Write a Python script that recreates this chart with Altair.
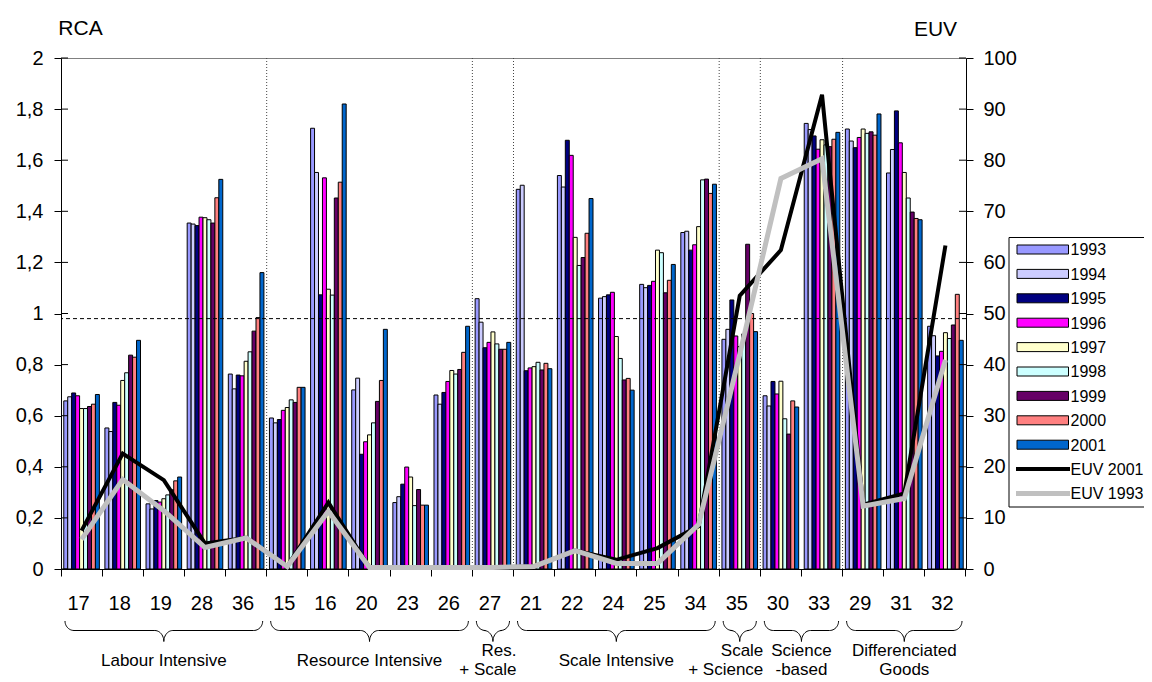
import altair as alt
import numpy as np
import pandas as pd

# ---------------- data ----------------
cats = ["17", "18", "19", "28", "36", "15", "16", "20", "23", "26", "27",
        "21", "22", "24", "25", "34", "35", "30", "33", "29", "31", "32"]
years = ["1993", "1994", "1995", "1996", "1997", "1998", "1999", "2000", "2001"]
year_colors = ["#9999FF", "#CCCCFF", "#000080", "#FF00FF", "#FFFFCC",
               "#CCFFFF", "#660066", "#FF8080", "#0066CC"]

rca_1993 = [0.658, 0.552, 0.255, 1.354, 0.763, 0.591, 1.725, 0.701, 0.260, 0.681, 1.058, 1.486, 1.540, 1.060, 1.114, 1.317, 0.899, 0.678, 1.744, 1.722, 1.550, 0.950]
rca_1994 = [0.674, 0.538, 0.235, 1.350, 0.705, 0.572, 1.552, 0.747, 0.283, 0.645, 0.966, 1.502, 1.495, 1.066, 1.101, 1.322, 0.938, 0.638, 1.720, 1.675, 1.642, 0.913]
rca_1995 = [0.689, 0.652, 0.268, 1.344, 0.759, 0.585, 1.073, 0.449, 0.332, 0.691, 0.866, 0.776, 1.678, 1.073, 1.110, 1.248, 1.053, 0.734, 1.695, 1.649, 1.793, 0.834]
rca_1996 = [0.678, 0.641, 0.262, 1.377, 0.756, 0.621, 1.531, 0.498, 0.399, 0.734, 0.887, 0.787, 1.619, 1.083, 1.126, 1.269, 0.912, 0.685, 1.643, 1.689, 1.668, 0.852]
rca_1997 = [0.628, 0.738, 0.275, 1.375, 0.813, 0.632, 1.095, 0.525, 0.360, 0.777, 0.928, 0.792, 1.298, 0.910, 1.248, 1.340, 0.870, 0.735, 1.680, 1.722, 1.552, 0.925]
rca_1998 = [0.628, 0.768, 0.290, 1.367, 0.850, 0.662, 1.072, 0.572, 0.248, 0.763, 0.881, 0.809, 1.188, 0.824, 1.238, 1.523, 0.920, 0.588, 1.660, 1.705, 1.452, 0.902]
rca_1999 = [0.636, 0.837, 0.310, 1.354, 0.931, 0.652, 1.452, 0.656, 0.311, 0.781, 0.860, 0.779, 1.219, 0.740, 1.081, 1.526, 1.271, 0.528, 1.653, 1.711, 1.397, 0.955]
rca_2000 = [0.645, 0.829, 0.345, 1.453, 0.984, 0.711, 1.514, 0.738, 0.250, 0.848, 0.860, 0.805, 1.314, 0.746, 1.130, 1.470, 1.000, 0.658, 1.682, 1.698, 1.372, 1.075]
rca_2001 = [0.683, 0.895, 0.360, 1.525, 1.160, 0.711, 1.820, 0.938, 0.250, 0.950, 0.887, 0.784, 1.450, 0.700, 1.192, 1.506, 0.929, 0.634, 1.709, 1.781, 1.367, 0.895]

euv_2001 = [7.5, 22.6, 17.4, 5.0, 6.1, 0.5, 13.0, 0.3, 0.3, 0.3, 0.3, 0.5, 3.6, 1.8, 4.1, 8.4, 53.5, 62.4, 92.8, 12.6, 14.8, 63.3]
euv_1993 = [5.8, 17.5, 11.4, 4.2, 6.1, 0.5, 11.3, 0.3, 0.3, 0.3, 0.3, 0.5, 3.6, 1.1, 1.1, 8.7, 42.0, 76.4, 80.3, 12.3, 13.8, 40.9]

ref_level = 0.98
rca_ticks = [0, 0.2, 0.4, 0.6, 0.8, 1.0, 1.2, 1.4, 1.6, 1.8, 2.0]
euv_ticks = [0, 10, 20, 30, 40, 50, 60, 70, 80, 90, 100]

group_labels = [["Labour Intensive"], ["Resource Intensive"], ["Res.", "+ Scale"],
                ["Scale Intensive"], ["Scale", "+ Science"], ["Science", "-based"],
                ["Differenciated", "Goods"]]
group_first = ["17", "15", "27", "21", "35", "30", "29"]
group_last = ["36", "26", "27", "34", "35", "33", "32"]

legend_names = years + ["EUV 2001", "EUV 1993"]

# ---------------- layout ----------------
W, H = 905, 511
PAD = {"left": 53, "top": 50, "right": 1136 - 53 - W, "bottom": 674 - 50 - H}
FONT = "Liberation Sans"
step = W / len(cats)

rca_by_year = [rca_1993, rca_1994, rca_1995, rca_1996, rca_1997, rca_1998, rca_1999, rca_2000, rca_2001]
rca_df = pd.DataFrame([{"cat": c, "year": y, "rca": v}
                       for y, arr in zip(years, rca_by_year) for c, v in zip(cats, arr)])
euv01_df = pd.DataFrame({"cat": cats, "euv": euv_2001})
euv93_df = pd.DataFrame({"cat": cats, "euv": euv_1993})

lab_expr = "replace(format(datum.value, '.1~f'), '.', ',')"

x_scale = alt.Scale(paddingInner=0, paddingOuter=0)
x_axis = alt.Axis(title=None, labelAngle=0, labelFontSize=20, labelFont=FONT,
                  labelColor="black", tickSize=7, bandPosition=1, tickExtra=True,
                  labelPadding=27, labelBaseline="middle", labelOffset=-3,
                  domainColor="black", tickColor="black")
x_cat = alt.X("cat:N", sort=cats, scale=x_scale, axis=x_axis)

y_rca = alt.Y("rca:Q", scale=alt.Scale(domain=[0, 2], nice=False),
              axis=alt.Axis(values=rca_ticks, labelExpr=lab_expr, title="RCA",
                            titleAngle=0, titleX=19, titleY=-30, titleAlign="center",
                            titleBaseline="middle", titleFontSize=21, titleFont=FONT,
                            titleFontWeight="normal", titleColor="black",
                            labelFontSize=20, labelFont=FONT, labelColor="black",
                            tickSize=7, labelPadding=11, grid=False,
                            domainColor="black", tickColor="black"))
y_euv = alt.Y("euv:Q", scale=alt.Scale(domain=[0, 100], nice=False),
              axis=alt.Axis(orient="right", values=euv_ticks, title="EUV",
                            titleAngle=0, titleX=-31, titleY=-29, titleAlign="center",
                            titleBaseline="middle", titleFontSize=21, titleFont=FONT,
                            titleFontWeight="normal", titleColor="black",
                            labelFontSize=20, labelFont=FONT, labelColor="black",
                            tickSize=7, labelPadding=10, grid=False,
                            domainColor="black", tickColor="black"))

fill_enc = alt.Fill("year:N", scale=alt.Scale(domain=years, range=year_colors), legend=None)

# ---------------- RCA layer ----------------
bars = alt.Chart(rca_df).mark_bar(stroke="black", strokeWidth=1).encode(
    x=x_cat,
    xOffset=alt.XOffset("year:N", sort=years, scale=alt.Scale(paddingOuter=0.7, paddingInner=0)),
    y=y_rca,
    fill=fill_enc,
)

sep_df = pd.DataFrame({"cat": group_first[1:]})
separators = alt.Chart(sep_df).mark_rule(color="#444444", strokeDash=[1, 2], strokeWidth=1).encode(
    x=alt.X("cat:N", sort=cats, scale=x_scale, axis=x_axis, bandPosition=0)
)

ref_rule = alt.Chart(pd.DataFrame({"rca": [ref_level]})).mark_rule(
    color="black", strokeDash=[4, 3], strokeWidth=1).encode(y=y_rca)

tick_df = pd.DataFrame({"rca": rca_ticks})
in_ticks_l = alt.Chart(tick_df).mark_rule(color="black").encode(
    y=y_rca, x=alt.value(0), x2=alt.value(7))
in_ticks_r = alt.Chart(tick_df).mark_rule(color="black").encode(
    y=y_rca, x=alt.value(W - 7), x2=alt.value(W))

layer_rca = alt.layer(bars, separators, ref_rule, in_ticks_l, in_ticks_r)

# ---------------- EUV layer ----------------
line01 = alt.Chart(euv01_df).mark_line(color="black", strokeWidth=4).encode(x=x_cat, y=y_euv)
line93 = alt.Chart(euv93_df).mark_line(color="#C0C0C0", strokeWidth=5).encode(x=x_cat, y=y_euv)
layer_euv = alt.layer(line01, line93)

# ---------------- decorations (pixel space) ----------------
Y_TOP, Y_MID, Y_TIP = 563.0, 572.5, 583.5


def brace_points(xl, xr, yt, ym, yb, rx=9, n=12):
    xc = (xl + xr) / 2
    pts = []
    for k in range(n + 1):
        t = np.pi / 2 * k / n
        pts.append((xl + rx - rx * np.cos(t), yt + (ym - yt) * np.sin(t)))
    for k in range(n + 1):
        t = np.pi / 2 * k / n
        pts.append((xc - rx + rx * np.sin(t), yb - (yb - ym) * np.cos(t)))
    right = [(2 * xc - x, y) for (x, y) in reversed(pts)]
    return pts + right[1:]


brace_rows, text_rows = [], []
for g, (lines, f, l) in enumerate(zip(group_labels, group_first, group_last)):
    s, e = cats.index(f), cats.index(l)
    xl, xr = s * step + 4, (e + 1) * step - 4
    for k, (bx, by) in enumerate(brace_points(xl, xr, Y_TOP, Y_MID, Y_TIP)):
        brace_rows.append({"g": g, "k": k, "bx": bx, "by": by})
    narrow = (e == s)
    ys = [602.5] if len(lines) == 1 else [592.5, 612.0]
    for txt, ty in zip(lines, ys):
        text_rows.append({"t": txt, "ty": ty,
                          "tx": (xr + 7) if narrow else (xl + xr) / 2,
                          "al": "right" if narrow else "center"})

text_df = pd.DataFrame(text_rows)
braces = alt.Chart(pd.DataFrame(brace_rows)).mark_line(color="black", strokeWidth=1).encode(
    x=alt.X("bx:Q", scale=None), y=alt.Y("by:Q", scale=None), detail="g:N", order="k:Q")
group_text_c = alt.Chart(text_df[text_df["al"] == "center"]).mark_text(
    font=FONT, fontSize=17, color="black", align="center", baseline="middle").encode(
    x=alt.X("tx:Q", scale=None), y=alt.Y("ty:Q", scale=None), text="t:N")
group_text_r = alt.Chart(text_df[text_df["al"] == "right"]).mark_text(
    font=FONT, fontSize=17, color="black", align="right", baseline="middle").encode(
    x=alt.X("tx:Q", scale=None), y=alt.Y("ty:Q", scale=None), text="t:N")

# legend
LX0, LY0, LROW = 956.0, 191.5, 24.4
leg_box = alt.Chart(pd.DataFrame({"a": [LX0 - 8], "a2": [1110], "b": [179.5], "b2": [449]})).mark_rect(
    fill="white", stroke="black", strokeWidth=1).encode(
    x=alt.X("a:Q", scale=None), x2="a2:Q", y=alt.Y("b:Q", scale=None), y2="b2:Q")

sw_df = pd.DataFrame({"year": years,
                      "sx": [LX0] * len(years), "sx2": [LX0 + 51.5] * len(years),
                      "sy": [LY0 + LROW * i - 4.5 for i in range(len(years))],
                      "sy2": [LY0 + LROW * i + 4.5 for i in range(len(years))]})
leg_sw = alt.Chart(sw_df).mark_rect(stroke="black", strokeWidth=1).encode(
    x=alt.X("sx:Q", scale=None), x2="sx2:Q", y=alt.Y("sy:Q", scale=None), y2="sy2:Q",
    fill=fill_enc)

nY = len(years)
leg_l01 = alt.Chart(pd.DataFrame({"lx": [LX0 - 1], "lx2": [LX0 + 53], "ly": [LY0 + LROW * nY]})).mark_rule(
    color="black", strokeWidth=4).encode(x=alt.X("lx:Q", scale=None), x2="lx2:Q", y=alt.Y("ly:Q", scale=None))
leg_l93 = alt.Chart(pd.DataFrame({"lx": [LX0 - 1], "lx2": [LX0 + 53], "ly": [LY0 + LROW * (nY + 1)]})).mark_rule(
    color="#C0C0C0", strokeWidth=5).encode(x=alt.X("lx:Q", scale=None), x2="lx2:Q", y=alt.Y("ly:Q", scale=None))

lt_df = pd.DataFrame({"name": legend_names,
                      "nx": [LX0 + 53.5] * len(legend_names),
                      "ny": [LY0 + LROW * i + 0.8 for i in range(len(legend_names))]})
leg_text = alt.Chart(lt_df).mark_text(font=FONT, fontSize=16, color="black",
                                      align="left", baseline="middle").encode(
    x=alt.X("nx:Q", scale=None), y=alt.Y("ny:Q", scale=None), text="name:N")

layer_decor = alt.layer(braces, group_text_c, group_text_r, leg_box, leg_sw, leg_l01, leg_l93, leg_text)

chart = alt.layer(layer_rca, layer_euv, layer_decor).resolve_scale(
    y="independent"
).properties(
    width=W, height=H, padding=PAD, autosize=alt.AutoSizeParams(type="none")
).configure_view(
    stroke="#808080", strokeWidth=1
).configure_text(font=FONT)

chart.save("out.html", embed_options={"renderer": "svg", "actions": False})
